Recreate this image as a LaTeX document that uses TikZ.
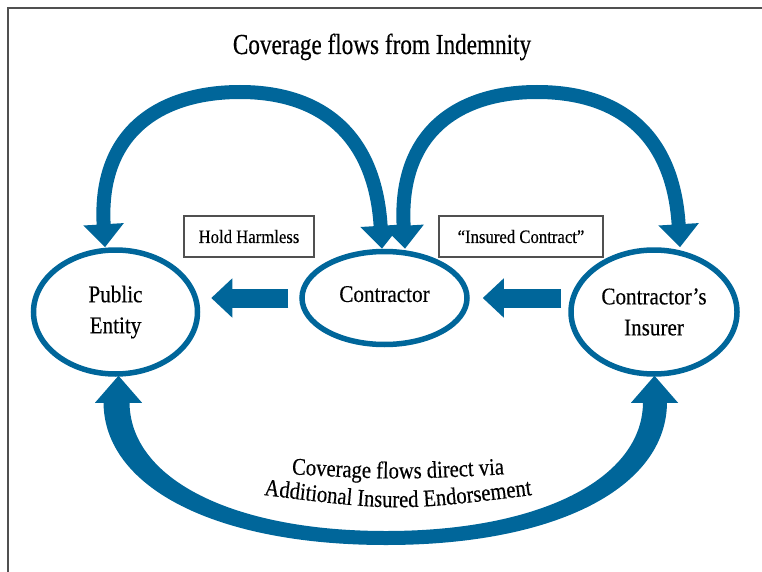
\documentclass[tikz,border=0pt]{standalone}
\usepackage{fontspec}
\setmainfont{Liberation Serif}
\newfontfamily\nodefont[FakeStretch=0.88,FakeBold=0.35]{Liberation Serif}
\newfontfamily\titlefont[FakeStretch=0.8,FakeBold=0.4]{Liberation Serif}
\newfontfamily\botfont[FakeStretch=0.86,FakeBold=0.35]{Liberation Serif}
\newcommand\botstyle{\botfont\fontsize{24}{29}\selectfont}
\usetikzlibrary{shapes.geometric,arrows.meta,calc,decorations.text}
\definecolor{flowblue}{HTML}{00669A}
\definecolor{framegray}{HTML}{505050}
\begin{document}
\begin{tikzpicture}[x=1pt,y=-1pt,
  entity/.style={ellipse, draw=flowblue, line width=5.5pt, inner sep=0pt, align=center,
    font=\nodefont\fontsize{24}{31}\selectfont},
  tagbox/.style={rectangle, draw=framegray, line width=1.2pt, minimum width=130pt,
    minimum height=41pt, inner sep=0pt, font=\nodefont\fontsize{19}{23}\selectfont},
  loop/.style={draw=flowblue, line width=14pt,
    {Triangle[width=39pt,length=23pt]}-{Triangle[width=39pt,length=23pt]}},
  block/.style={draw=flowblue, line width=19pt, -{Triangle[width=38pt,length=21pt]}},
  headfill/.style={fill=flowblue},
]
\useasboundingbox (0,0) rectangle (762,572);
\draw[framegray, line width=2pt] (8,572) -- (8,8) -- (762,8);

% nodes
\node[entity, minimum width=164pt, minimum height=124pt] (pe) at (115.5,312) {Public\\Entity};
\node[entity, minimum width=165pt, minimum height=93pt, text depth=8pt] (con) at (384.5,298) {Contractor};
\node[entity, minimum width=166pt, minimum height=124pt] (ins) at (654,312) {Contractor’s\\Insurer};

\node[tagbox] (hh) at (249,236.5) {Hold Harmless};
\node[tagbox, minimum width=164pt] (ic) at (521,236.5) {“Insured Contract”};

% block arrows
\draw[block, shorten <=11pt, shorten >=11pt] (con.west) -- (con.west -| pe.east);
\draw[block, shorten <=7pt, shorten >=13pt] (ins.west |- con.west) -- (con.east);

% top loops
\coordinate (apexL) at (240,92);
\coordinate (apexR) at (537,92);
\draw[loop] ($(con.north)+(-2.5,0)$) .. controls +(-7,-117) and +(78,0) .. (apexL)
  .. controls +(-78,0) and +(-7,-117) .. ($(pe.north)+(-10.5,0)$);
\draw[loop] ($(con.north)+(20.5,0)$) .. controls +(-7,-117) and +(-78,0) .. (apexR)
  .. controls +(78,0) and +(-7,-117) .. ($(ins.north)+(26,0)$);

% bottom loop (tapered)
\coordinate (botO) at (386,545);
\coordinate (botI) at (386,531);
\fill[flowblue] ($(pe.south)+(-12,25)$) .. controls +(0,86) and +(-170,0) .. (botO)
  .. controls +(170,0) and +(0,86) .. ($(ins.south)+(13,25)$)
  -- ($(ins.south)+(-11,25)$) .. controls +(0,77) and +(154,0) .. (botI)
  .. controls +(-154,0) and +(0,77) .. ($(pe.south)+(14,25)$) -- cycle;
\fill[headfill] ($(pe.south)+(3,-1)$) -- ++(-23.5,27) -- ++(47,0) -- cycle;
\fill[headfill] ($(ins.south)+(0.5,-1)$) -- ++(-23.5,27) -- ++(47,0) -- cycle;

% texts
\node[font=\titlefont\fontsize{29}{35}\selectfont, anchor=base, inner sep=0pt] (title) at (382,54) {Coverage flows from Indemnity};
\path[decorate, decoration={text along path, text align=center,
  text={|\botstyle|Coverage flows direct via}}] (285,474) .. controls (398,480) .. (511,474);
\path[decorate, decoration={text along path, text align=center,
  text={|\botstyle|Additional Insured Endorsement}}] (248,493) .. controls (398,512) .. (548,493);
\end{tikzpicture}
\end{document}
